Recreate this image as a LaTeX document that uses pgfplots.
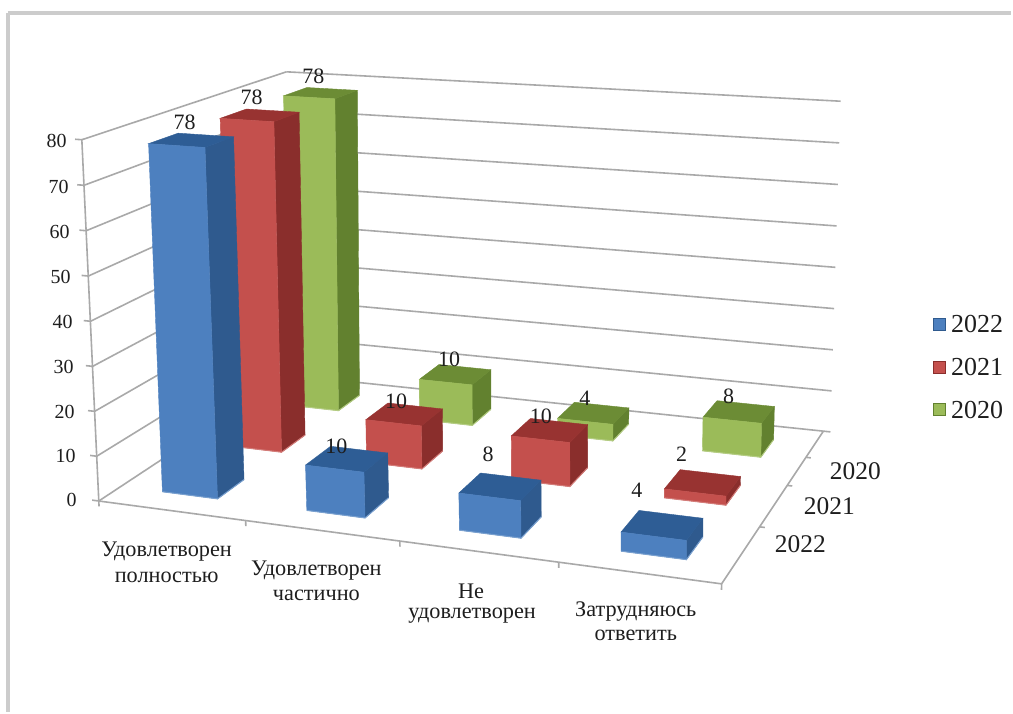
\documentclass[border=0pt]{standalone}
\usepackage{pgfplots}
\pgfplotsset{compat=1.18}
\usepackage{fontspec}
\setmainfont{Liberation Serif}

\definecolor{gridc}{HTML}{A9A9A9}
\definecolor{framec}{HTML}{CCCCCC}
\definecolor{txt}{HTML}{1E1E1E}
\definecolor{bluef}{HTML}{4D80BF}
\definecolor{blues}{HTML}{2F5A8E}
\definecolor{bluet}{HTML}{2E5D95}
\definecolor{redf}{HTML}{C4504D}
\definecolor{reds}{HTML}{8A2E2C}
\definecolor{redt}{HTML}{983331}
\definecolor{greenf}{HTML}{9BBB59}
\definecolor{greens}{HTML}{62812F}
\definecolor{greent}{HTML}{6C8C35}

% perspective of the 3D box, fitted on its corners in the picture
% u: along categories 0..1, v: into depth 0..1, z: value/80
\newcommand\proj[4]{%
  \pgfmathsetmacro\px{(99+545.89*#2+245.22*#3+(-20.28+5.2*#3-7.6*#2)*#4)/(1-.10804*#2+.18695*#3-.04*#4)}%
  \pgfmathsetmacro\py{(502+19.8*#2-55.71*#3+(-363.4+1.8*#3+3.5*#2)*#4)/(1-.10804*#2+.18695*#3-.01*#4)}%
  \expandafter\xdef\csname #1\endcsname{(\px,\py)}%
}
\newcommand\poly[3]{% options, points, closing
  \edef\tmp{\noexpand\addplot[#1] coordinates {#2}#3;}\tmp
}
% one bar: category, series, value, colour stem
\newcommand\barbox[4]{%
  \pgfmathsetmacro\ua{.2525*#1+.075}\pgfmathsetmacro\ub{\ua+.098}%
  \pgfmathsetmacro\va{.3333*#2+.1}\pgfmathsetmacro\vb{\va+.133}%
  \pgfmathsetmacro\zz{#3/80}%
  \proj{pa}{\ua}{\va}{0}\proj{pb}{\ub}{\va}{0}\proj{pc}{\ub}{\vb}{0}%
  \proj{pd}{\ua}{\va}{\zz}\proj{pe}{\ub}{\va}{\zz}\proj{pf}{\ub}{\vb}{\zz}\proj{pg}{\ua}{\vb}{\zz}%
  \poly{fill=#4s,draw=#4s,line width=.4pt}{\pb \pc \pf \pe}{--cycle}%
  \poly{fill=#4t,draw=#4t,line width=.4pt}{\pd \pe \pf \pg}{--cycle}%
  \poly{fill=#4f,draw=#4f,line width=.4pt}{\pa \pb \pe \pd}{--cycle}%
  \poly{#4f!75!white,line width=1pt}{\pa \pb \pc}{}%
}
\newcommand\seg[7]{% two 3D points of a line
  \proj{qa}{#2}{#3}{#4}\proj{qb}{#5}{#6}{#7}%
  \poly{gridc,line width=#1}{\qa \qb}{}%
}
% text: size, anchor, x, y, text
\newcommand\lbl[5]{\node[text=txt,inner sep=0pt,anchor=#2,font=\fontsize{#1}{#1}\selectfont] at (axis cs:#3,#4) {#5};}

\begin{document}
\begin{tikzpicture}
\begin{axis}[
    scale only axis,
    width=1013pt,height=713pt,
    xmin=0,xmax=1013,ymin=0,ymax=713,
    y dir=reverse,
    hide axis,
    clip=false,
    no markers,
  ]
  % page and frame
  \addplot[fill=white,draw=none] coordinates {(0,0) (1013,0) (1013,713) (0,713)} --cycle;
  \addplot[framec,line width=4pt] coordinates {(8,13) (1013,13)};
  \addplot[framec,line width=4pt] coordinates {(8,13) (8,713)};

  % walls: grid every 10
  \pgfplotsinvokeforeach{0,10,...,80}{%
    \pgfmathsetmacro\zg{#1/80}%
    \seg{1.6pt}{0}{0}{\zg}{0}{1}{\zg}%
    \seg{1.6pt}{0}{1}{\zg}{1.012}{1}{\zg}%
    \seg{1.6pt}{-.012}{0}{\zg}{0}{0}{\zg}%
  }
  \seg{1.6pt}{0}{0}{0}{0}{0}{1}%
  \seg{1.6pt}{0}{0}{0}{1}{0}{0}%
  \seg{1.6pt}{1}{0}{0}{1}{1}{0}%
  % ticks on the front edge and the depth edge
  \pgfplotsinvokeforeach{0,.257,.512,.76,1}{\seg{1.6pt}{#1}{0}{0}{#1}{0}{-.015}}
  \pgfplotsinvokeforeach{.33,.6,.8}{\seg{1.6pt}{1}{#1}{0}{1.008}{#1}{0}}

  % bars, back row first
  \barbox{0}{2}{78}{green}
  \barbox{1}{2}{10}{green}
  \barbox{2}{2}{4}{green}
  \barbox{3}{2}{8}{green}
  \barbox{0}{1}{78}{red}
  \barbox{1}{1}{10}{red}
  \barbox{2}{1}{10}{red}
  \barbox{3}{1}{2}{red}
  \barbox{0}{0}{78}{blue}
  \barbox{1}{0}{10}{blue}
  \barbox{2}{0}{8}{blue}
  \barbox{3}{0}{4}{blue}

  % legend swatches
  \addplot[fill=bluef,draw=blues,line width=1.2pt] coordinates {(935,319) (947,319) (947,331) (935,331)} --cycle;
  \addplot[fill=redf,draw=reds,line width=1.2pt] coordinates {(935,362) (947,362) (947,374) (935,374)} --cycle;
  \addplot[fill=greenf,draw=greens,line width=1.2pt] coordinates {(935,404) (947,404) (947,416) (935,416)} --cycle;

  % value labels
  \lbl{22}{center}{185}{123}{78}
  \lbl{22}{center}{252}{97}{78}
  \lbl{22}{center}{314}{76}{78}
  \lbl{22}{center}{337}{447}{10}
  \lbl{22}{center}{397}{402}{10}
  \lbl{22}{center}{450}{360}{10}
  \lbl{22}{center}{489}{455}{8}
  \lbl{22}{center}{542}{417}{10}
  \lbl{22}{center}{586}{399}{4}
  \lbl{22}{center}{638}{491}{4}
  \lbl{22}{center}{683}{455}{2}
  \lbl{22}{center}{730}{397}{8}
  % value axis
  \lbl{20}{east}{77}{501}{0}
  \lbl{20}{east}{76}{457}{10}
  \lbl{20}{east}{75}{413}{20}
  \lbl{20}{east}{74}{368}{30}
  \lbl{20}{east}{73}{323}{40}
  \lbl{20}{east}{71}{278}{50}
  \lbl{20}{east}{70}{232}{60}
  \lbl{20}{east}{69}{187}{70}
  \lbl{20}{east}{67}{141}{80}
  % depth axis
  \lbl{25.5}{center}{857}{472}{2020}
  \lbl{25.5}{center}{831}{507}{2021}
  \lbl{25.5}{center}{802}{545}{2022}
  % legend
  \lbl{26}{center}{979}{325}{2022}
  \lbl{26}{center}{979}{368}{2021}
  \lbl{26}{center}{979}{411}{2020}
  % categories
  \lbl{22.3}{center}{167}{553}{Удовлетворен}
  \lbl{22.3}{center}{167}{578}{полностью}
  \lbl{22.3}{center}{317}{572}{Удовлетворен}
  \lbl{22.3}{center}{317}{597}{частично}
  \lbl{22.3}{center}{472}{592}{Не}
  \lbl{22.3}{center}{473}{617}{удовлетворен}
  \lbl{22.3}{center}{637}{613}{Затрудняюсь}
  \lbl{22.3}{center}{637}{637}{ответить}
\end{axis}
\end{tikzpicture}
\end{document}
